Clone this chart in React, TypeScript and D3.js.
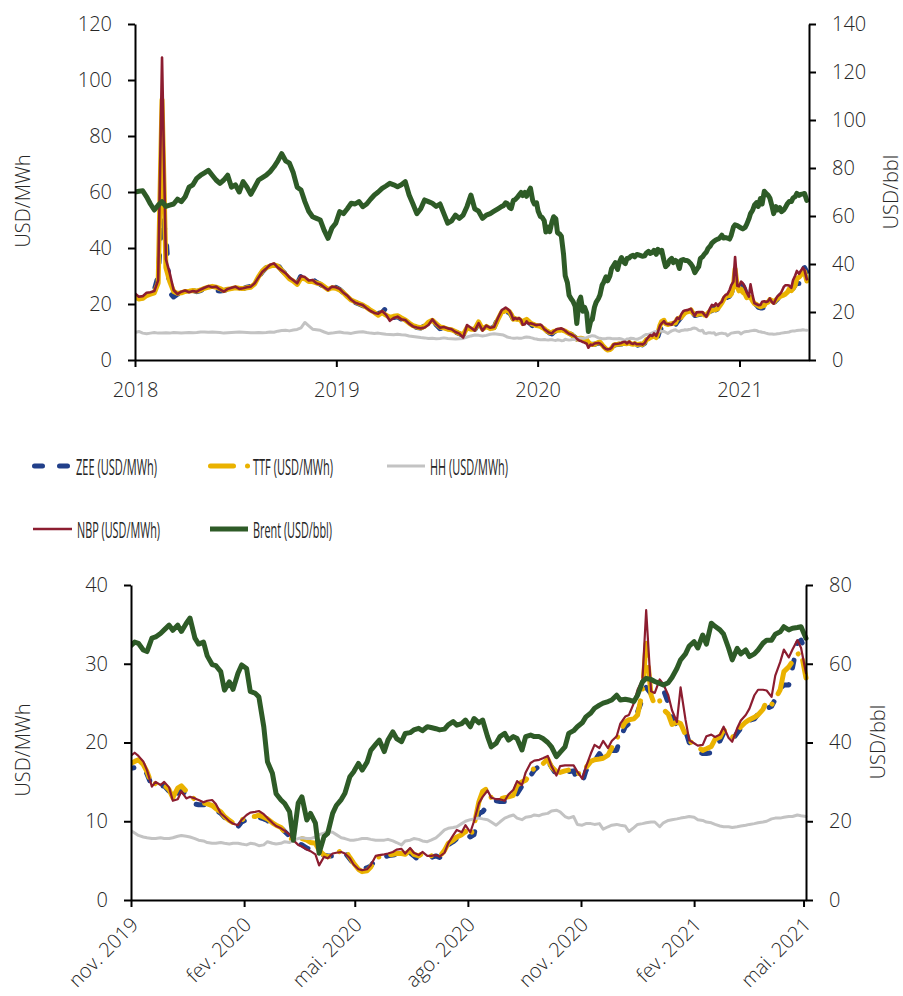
//gas and oil prices, two panels drawn with d3
import React, { useEffect, useRef } from 'react';
import * as d3 from 'd3';

// weekly values, first week 2018-01-01, last 2019-10-21
const zeeWeekly = [22.8, 22, 22.2, 23.2, 23.6, 25, 30, 51, 45, 24, 22.5, 23.5, 23.8, 24.2, 24.5, 24.8, 24.4, 24.8, 25.5, 25.6, 25.2, 24.8, 24.6, 24.8, 25.2, 25.5, 25.8, 25.6, 25.5, 26, 26.3, 27, 29.5, 31.5, 33, 34, 35, 34, 32, 30.8, 29.5, 28.6, 27.2, 30.2, 29.8, 28.6, 28.8, 27.8, 27, 26, 25, 26, 26, 25.2, 24, 22.6, 21.6, 20.6, 20, 19.4, 18.6, 17.6, 17, 16.6, 17, 18.5, 14.8, 15.2, 15.4, 14.6, 14, 13, 12.2, 11.6, 11.4, 12.2, 12.8, 14.6, 12.6, 11.2, 11.4, 10.8, 10.6, 10, 9.4, 8.8, 11.8, 11.2, 10.8, 13, 10.8, 12, 11.4, 11.6, 15];
const ttfWeekly = [22.5, 21.8, 22, 23, 23.5, 24, 27.5, 93, 33, 28, 24.5, 23.8, 24, 24.5, 24.6, 24.8, 24.6, 25, 25.6, 26, 26.3, 26, 25.5, 24.8, 25.3, 25.5, 25.8, 25.6, 25.5, 25.8, 26, 27.2, 29.8, 31.8, 33, 33.5, 34, 33.5, 32, 30.5, 29, 28.2, 27, 29.2, 29, 28, 28, 27.5, 27.2, 26.2, 25.2, 25.8, 25.6, 25, 24, 22.6, 21.4, 20.8, 20.2, 19.6, 18.8, 17.8, 17, 16, 17, 16, 15.2, 15.6, 15.8, 15, 14.3, 13.2, 12.3, 11.8, 11.5, 12, 13.5, 14.2, 13, 11.8, 11.5, 11, 10.8, 10.2, 9.5, 9, 11.5, 11, 11, 13.6, 11, 12, 11.2, 11.5, 14.5];
const hhWeekly = [9.8, 10.2, 9.6, 9.4, 9.6, 9.8, 9.6, 9.6, 9.7, 9.6, 9.8, 9.7, 9.6, 9.7, 9.8, 9.7, 9.8, 10, 10, 9.9, 10, 9.9, 9.8, 9.6, 9.7, 9.8, 9.9, 10, 9.9, 9.8, 9.7, 9.7, 9.8, 9.7, 9.8, 10, 9.9, 10.3, 10.5, 10.6, 10.4, 10.7, 10.9, 11.5, 13.4, 12.2, 11, 10.8, 10.6, 10, 9.5, 9.6, 9.8, 10, 9.7, 9.6, 9.5, 9.8, 10, 10.1, 9.8, 9.6, 9.5, 9.6, 9.4, 9.2, 9.1, 9, 9.2, 9, 8.9, 8.6, 8.4, 8.2, 8, 7.9, 7.7, 7.8, 7.6, 7.7, 7.9, 7.7, 7.6, 7.5, 7.6, 7.7, 8.2, 8.6, 8.9, 8.8, 8.6, 8.8, 9.2, 9.4, 9.2];
const nbpWeekly = [23.8, 22.6, 22.8, 24, 24.2, 24.6, 28.5, 108, 36, 31, 25, 23.5, 24.4, 24.8, 24.2, 24.6, 24.4, 25.2, 25.8, 26.4, 26, 26.2, 25.2, 24.4, 25.4, 25.8, 26.2, 25.4, 25.6, 26, 26.2, 27.4, 29.5, 31.5, 32.7, 34, 34.5, 33, 32, 31, 29.5, 28.5, 27.4, 30, 29.6, 28.4, 28.6, 27.4, 27, 26, 25, 26.2, 26, 25.4, 24, 23, 21.5, 20.5, 20, 19.6, 18.5, 17.5, 16.8, 16.5, 17.5, 16.2, 14, 15, 15.5, 14.5, 14.3, 13, 12, 11.6, 11.3, 11.6, 12.5, 14.5, 12.8, 11.5, 11.8, 11.3, 11, 10, 9.4, 8, 12.5, 11.5, 10.5, 13.2, 10.5, 12.3, 11.5, 11.8, 15];
const brentWeekly = [70, 70.3, 70.5, 68, 65, 62.5, 64.5, 66, 64, 64.5, 65, 67, 66, 68, 72, 73, 75.7, 77, 78, 79, 77, 75, 73.6, 75, 77, 72, 73, 70, 74.3, 72, 69, 72, 75, 76, 77, 78.5, 80.5, 83, 86, 83, 82, 78, 72, 70.8, 66, 62, 59.7, 59, 58.3, 54, 50.7, 55, 57, 61.8, 61, 63, 65.3, 65, 66, 63.9, 65, 67, 68.75, 70, 71.5, 72.5, 73.6, 73, 72.2, 73, 74.3, 68.75, 65, 61, 63, 66.7, 66, 65.3, 64, 65, 61, 57, 58, 60.4, 59, 60.4, 64, 68.75, 63, 62, 59, 60.4, 61, 62, 63];

// twice a week (mon / thu), 2019-10-28 to 2021-05-03
const zeeTwice = [16.6, 16.7, 16.8, 17, 16.9, 16, 14.5, 14.6, 14.4, 14.5, 13.8, 12.8, 13.6, 13.9, 13.4, 12.9, 12.2, 12.1, 12.1, 12, 11.8, 11.4, 11, 10.5, 10, 9.6, 9.3, 9.9, 10.2, 10.4, 10.4, 10.5, 10.3, 10.1, 9.5, 9.3, 9.2, 8.7, 8.1, 7.5, 7.2, 7, 6.6, 6.4, 6, 5.8, 5.7, 5.6, 5.6, 5.8, 6, 6, 5.2, 4.6, 4.2, 4, 4.1, 4.3, 5.2, 5.4, 5.5, 5.6, 5.7, 5.8, 5.8, 5.6, 6, 5.6, 5.1, 5.1, 5.2, 5.4, 5.6, 5.4, 6, 7, 7.4, 7.8, 8.1, 8.5, 8, 8.3, 11, 11.2, 12, 12.6, 12.6, 12.5, 12.5, 12.6, 12.6, 13.5, 14.5, 15.2, 15.8, 16.5, 17, 17.2, 17.6, 16.9, 15.9, 16, 16.2, 16.3, 16.4, 15.2, 14.9, 16.4, 17.4, 17.6, 18.6, 17.9, 18.2, 19, 19, 20.6, 22, 22.4, 22.8, 23.9, 25.5, 27, 26.2, 26.5, 26.7, 26.7, 25, 23, 22.2, 22, 21.5, 20, 19.6, 18.8, 18.6, 18.6, 18.7, 19.9, 20.2, 21.2, 20.7, 20.3, 21.2, 21.8, 22.9, 22.8, 23, 23.6, 24.5, 24.3, 24.6, 25.5, 26.9, 27.3, 27.3, 29.5, 32.6, 33, 31.5];
const ttfTwice = [17.2, 17.3, 17.6, 17.8, 17.2, 16.3, 14.6, 14.8, 14.5, 14.6, 14, 13, 14.2, 14.5, 13.8, 13.2, 12.8, 12.6, 12.3, 12.2, 12, 11.6, 11.2, 10.6, 10.1, 9.8, 9.8, 10.2, 10.4, 10.6, 10.6, 10.8, 10.5, 10.3, 9.8, 9.5, 9.2, 8.6, 8, 7.5, 7.7, 7.8, 7.6, 7.3, 7.2, 6.3, 5.7, 5.5, 5.6, 5.9, 6.3, 6.4, 5.4, 4.7, 3.9, 3.6, 3.7, 4.2, 5.3, 5.5, 5.6, 5.7, 5.8, 5.9, 5.9, 5.8, 6.3, 5.8, 5.6, 5.9, 5.5, 5.6, 5.7, 5.5, 6.3, 7.2, 7.6, 8, 8.3, 8.7, 8, 9.5, 12.5, 13.8, 14.2, 13, 12.7, 12.8, 13, 13.1, 13.3, 14.6, 15, 15.2, 16.1, 16.8, 17.2, 17.3, 17.9, 16.9, 16.3, 16.2, 16.4, 16.5, 16.6, 16.1, 16, 16.8, 17.6, 17.8, 17.9, 18, 18.4, 19.3, 20.4, 21.5, 22.6, 22.9, 23, 23.5, 26.5, 32.6, 26, 24.7, 25.3, 24.2, 23.6, 22.3, 22.6, 22.4, 21, 20.2, 19.8, 19.4, 19, 19.2, 19.5, 20.4, 20.7, 21.6, 21.2, 20.6, 21.5, 22, 22.6, 22.9, 23.2, 23.5, 24.2, 25.3, 24.8, 25.5, 26.7, 29, 29.6, 30.3, 31.2, 31.5, 28.2];
const hhTwice = [9, 8.9, 8.5, 8.2, 8, 7.9, 7.8, 7.8, 7.9, 7.8, 7.8, 7.9, 8.1, 8.2, 8.1, 8, 7.8, 7.6, 7.5, 7.3, 7.2, 7.2, 7.3, 7.2, 7.1, 7.2, 7.2, 7.1, 7, 7.2, 7.1, 6.9, 7, 7.4, 7.2, 7.1, 7.2, 7.4, 7.3, 7.6, 7.8, 7.9, 7.8, 7.8, 8, 8.3, 8.5, 8.7, 8.6, 8.3, 7.9, 7.8, 7.6, 7.6, 7.7, 7.8, 7.8, 7.7, 7.6, 7.6, 7.6, 7.7, 7.5, 7.3, 7, 7.5, 7.6, 7.8, 7.7, 7.5, 7.4, 7.6, 7.9, 8.3, 8.9, 9.1, 9.2, 9.3, 9.7, 10, 10.2, 10.3, 10.4, 10.3, 10.2, 9.9, 9.5, 9.9, 10.4, 10.6, 10.8, 10.4, 10.2, 10.5, 10.6, 10.8, 10.7, 10.9, 11, 11.3, 11.4, 11.2, 10.6, 10.4, 10.6, 9.6, 9.5, 9.7, 9.7, 9.6, 9.7, 9, 9.3, 9.5, 9.6, 9.5, 9.4, 8.7, 9.2, 9.6, 9.7, 9.8, 9.9, 9.9, 9.3, 9.8, 10.1, 10.2, 10.3, 10.4, 10.5, 10.6, 10.5, 10.2, 10.1, 9.9, 9.8, 9.6, 9.4, 9.3, 9.3, 9.2, 9.3, 9.4, 9.5, 9.6, 9.7, 9.8, 9.9, 10, 10.3, 10.4, 10.4, 10.5, 10.6, 10.6, 10.8, 10.7, 10.6];
const nbpTwice = [17.8, 18.2, 18.7, 18.3, 17.6, 16.5, 14.4, 15, 14.6, 15, 14.3, 12.6, 12.8, 13.8, 12.9, 13.1, 12.9, 12.7, 12.4, 12.6, 12.7, 12.2, 11, 10.6, 10, 9.7, 9.5, 10.2, 10.8, 11.1, 11.2, 11.3, 10.9, 10.4, 9.8, 9.4, 9.1, 8.8, 8.3, 7.6, 7, 6.8, 6.4, 6.2, 5.8, 4.4, 5.5, 5.3, 5.9, 6, 6.1, 5.9, 5.3, 4.5, 3.9, 3.8, 3.9, 4.4, 5.6, 5.7, 5.8, 5.9, 6.1, 6.4, 6.5, 5.9, 6.6, 6, 5.7, 6.1, 5.6, 5.6, 5.7, 5.5, 6, 7.2, 8.2, 8.9, 8.6, 9.5, 8.6, 10, 12.3, 13.1, 13.9, 13, 12.8, 12.8, 12.6, 13.4, 14, 15.1, 14.6, 16.2, 17.4, 17.7, 17.8, 18, 18.3, 17, 15.8, 17, 17.1, 17.1, 17.1, 16.3, 15.4, 16.9, 18.6, 19.7, 19.3, 20.2, 19.3, 20.2, 20.8, 22.4, 23.3, 23.5, 25, 26.7, 28, 36.8, 26.5, 26.3, 28, 27.4, 26, 24.1, 22.6, 27, 22.9, 20.3, 19.9, 19.6, 19.7, 20.8, 21, 20.7, 21, 22, 20.6, 20.1, 21.8, 22.8, 23.5, 24.3, 26, 26.7, 26.7, 26.6, 25.8, 28.5, 30.2, 31.8, 30.8, 31.8, 33, 32, 28.8];
const brentTwice = [64, 64.3, 65.5, 65.2, 63.5, 63.1, 66.5, 66.8, 67.7, 68.6, 69.8, 68.5, 69.8, 68.2, 70.3, 71.6, 66.5, 65, 65.5, 62, 59.8, 59.5, 58, 53.3, 55.4, 53.5, 57.6, 59.7, 58.8, 53, 52.5, 51.6, 44, 35.1, 32.2, 27, 25.4, 24.5, 22.4, 15.2, 24.6, 26.2, 20.3, 22, 19.5, 11.9, 16.1, 16.9, 22, 24, 25.5, 27.1, 31.3, 32.5, 34.7, 33, 35, 38, 39.5, 40.6, 37.7, 40.6, 42.7, 41, 40.2, 42.3, 42.5, 43.2, 43.6, 43, 44, 43.8, 43.5, 43.2, 43.4, 44.5, 45.3, 44.4, 44.8, 45.7, 44, 46.1, 45, 45.7, 41.5, 38.9, 39.8, 41.5, 42.3, 40.6, 41.5, 41, 38.1, 41.5, 41.9, 41.5, 41.5, 41, 40, 38.9, 36.4, 37.5, 38.9, 42.3, 43, 44, 45, 46.5, 47.5, 48.7, 49.5, 50, 50.4, 50.8, 52, 50.8, 51, 50.8, 50.4, 52, 55.4, 56.3, 56, 55.5, 55, 54.6, 55.2, 56.5, 58.8, 61, 62.5, 64.5, 65.6, 64, 67.3, 65, 70.3, 69.5, 68.6, 67.5, 64, 61, 63.9, 62.5, 63.5, 61.8, 62.5, 63.5, 65.2, 66, 66, 67.5, 68.1, 69.4, 68.6, 69, 69.2, 69.4, 66.5];

const yearTicks = ['2018', '2019', '2020', '2021'];
const monthTickDates = ['2019-11-01', '2020-02-01', '2020-05-01', '2020-08-01', '2020-11-01', '2021-02-01', '2021-05-01'];
const monthTickLabels = ['nov. 2019', 'fev. 2020', 'mai. 2020', 'ago. 2020', 'nov. 2020', 'fev. 2021', 'mai. 2021'];
const legendNames = ['ZEE (USD/MWh)', 'TTF (USD/MWh)', 'HH (USD/MWh)', 'NBP (USD/MWh)', 'Brent (USD/bbl)'];

const FONT = '"Open Sans", "DejaVu Sans", sans-serif';
const TEXT = '#262626';

const App = () => {
    const ref = useRef<SVGSVGElement>(null);

    useEffect(() => {
        const svg = d3.select(ref.current);
        svg.selectAll('*').remove();

        //the dates of every point
        const dates: Date[] = [];
        zeeWeekly.forEach((_, i) => dates.push(d3.timeDay.offset(new Date(2018, 0, 1), 7 * i)));
        zeeTwice.forEach((_, i) => dates.push(d3.timeDay.offset(new Date(2019, 9, 28), Math.floor(i / 2) * 7 + (i % 2) * 3)));

        const series = [
            { name: legendNames[0], values: zeeWeekly.concat(zeeTwice), color: '#213F8A', width: 5, dash: '8 17', legendDash: '8 17', right: false },
            { name: legendNames[1], values: ttfWeekly.concat(ttfTwice), color: '#EAB200', width: 5, dash: '34 12 0.01 12', legendDash: '23 14 0.01 14', right: false },
            { name: legendNames[2], values: hhWeekly.concat(hhTwice), color: '#C3C3C3', width: 3, dash: null, legendDash: null, right: false },
            { name: legendNames[3], values: nbpWeekly.concat(nbpTwice), color: '#8C1D30', width: 2.4, dash: null, legendDash: null, right: false },
            { name: legendNames[4], values: brentWeekly.concat(brentTwice), color: '#2E5B27', width: 5, dash: null, legendDash: null, right: true },
        ];

        const parse = d3.timeParse('%Y-%m-%d');

        const drawPanel = (p: any) => {
            const g = svg.append('g');
            const clipId = 'clip' + p.id;
            svg.append('clipPath').attr('id', clipId)
                .append('rect')
                .attr('x', p.xRange[0]).attr('y', 0)
                .attr('width', p.xRange[1] - p.xRange[0] + 6)
                .attr('height', p.yRange[0] + 4);

            const x = d3.scaleTime().domain(p.xDomain).range(p.xRange);
            const yL = d3.scaleLinear().domain(p.yLeft).range(p.yRange);
            const yR = d3.scaleLinear().domain(p.yRight).range(p.yRange);

            //lines
            const lines = g.append('g').attr('clip-path', `url(#${clipId})`);
            series.forEach((s) => {
                const yS = s.right ? yR : yL;
                const idx = d3.range(dates.length).filter((i) => dates[i] >= p.from);
                const line = d3.line<number>()
                    .x((i) => x(dates[i]))
                    .y((i) => yS(s.values[i]));
                //the long panel is dense enough that the ttf dashes close up
                const dash = p.solidTtf && s.name.startsWith('TTF') ? null : s.dash;
                lines.append('path')
                    .attr('d', line(idx))
                    .attr('fill', 'none')
                    .attr('stroke', s.color)
                    .attr('stroke-width', s.name.startsWith('NBP') ? p.nbpWidth : s.width)
                    .attr('stroke-linejoin', 'round')
                    .attr('stroke-linecap', 'round')
                    .attr('stroke-dasharray', dash);
            });

            //axes
            const styleAxis = (a: any) => {
                a.select('.domain').attr('stroke', '#000').attr('stroke-width', 2);
                a.selectAll('.tick line').attr('stroke', '#000').attr('stroke-width', 2);
                a.selectAll('text').attr('fill', TEXT).attr('font-size', 20)
                    .attr('font-family', FONT).attr('font-weight', 300);
            };
            g.append('g')
                .attr('transform', `translate(${p.xRange[0]},0)`)
                .call(d3.axisLeft(yL).tickValues(d3.range(p.yLeft[0], p.yLeft[1] + 1, p.leftStep))
                    .tickSize(7).tickSizeOuter(0).tickPadding(16))
                .call(styleAxis);
            g.append('g')
                .attr('transform', `translate(${p.xRange[1]},0)`)
                .call(d3.axisRight(yR).tickValues(d3.range(p.yRight[0], p.yRight[1] + 1, p.rightStep))
                    .tickSize(7).tickSizeOuter(0).tickPadding(16))
                .call(styleAxis);
            const xa = g.append('g')
                .attr('transform', `translate(0,${p.yRange[0]})`)
                .call(d3.axisBottom(x).tickValues(p.tickDates).tickFormat((_, i) => p.tickLabels[i])
                    .tickSize(7).tickSizeOuter(0).tickPadding(16))
                .call(styleAxis);
            if (p.rotate) {
                xa.selectAll('.tick text')
                    .attr('text-anchor', 'end')
                    .attr('dy', null)
                    .attr('y', null)
                    .attr('transform', 'translate(8,26) rotate(-45)');
            }

            //axis titles
            g.append('text')
                .attr('transform', `translate(${p.leftTitle[0]},${p.leftTitle[1]}) rotate(-90)`)
                .attr('text-anchor', 'middle').attr('dominant-baseline', 'central')
                .attr('font-family', FONT).attr('font-weight', 300).attr('font-size', 20).attr('fill', TEXT)
                .text('USD/MWh');
            g.append('text')
                .attr('transform', `translate(${p.rightTitle[0]},${p.rightTitle[1]}) rotate(-90)`)
                .attr('text-anchor', 'middle').attr('dominant-baseline', 'central')
                .attr('font-family', FONT).attr('font-weight', 300).attr('font-size', 20).attr('fill', TEXT)
                .text('USD/bbl');
        };

        drawPanel({
            id: 'top',
            from: new Date(2018, 0, 1),
            xDomain: [new Date(2018, 0, 1), new Date(2021, 4, 7)],
            xRange: [135, 809],
            yLeft: [0, 120], leftStep: 20,
            yRight: [0, 140], rightStep: 20,
            yRange: [360, 24],
            tickDates: yearTicks.map((y) => new Date(+y, 0, 1)),
            tickLabels: yearTicks,
            rotate: false,
            solidTtf: true,
            nbpWidth: 2.6,
            leftTitle: [22, 201],
            rightTitle: [890, 192],
        });

        drawPanel({
            id: 'bottom',
            from: new Date(2019, 9, 28),
            xDomain: [parse('2019-11-01'), parse('2021-05-03')],
            xRange: [131, 806],
            yLeft: [0, 40], leftStep: 10,
            yRight: [0, 80], rightStep: 20,
            yRange: [900, 585],
            tickDates: monthTickDates.map((d) => parse(d)),
            tickLabels: monthTickLabels,
            rotate: true,
            solidTtf: false,
            nbpWidth: 2.2,
            leftTitle: [22, 750],
            rightTitle: [877, 742],
        });

        //legend, two rows
        const legendPos = [
            { x1: 34.5, x2: 68, tx: 76, tw: 81, y: 466 },
            { x1: 210.5, x2: 250, tx: 253, tw: 80, y: 466 },
            { x1: 387, x2: 425, tx: 430, tw: 78, y: 466 },
            { x1: 33, x2: 72, tx: 77, tw: 83, y: 529 },
            { x1: 210, x2: 248, tx: 253, tw: 79, y: 529 },
        ];
        const legend = svg.append('g');
        series.forEach((s, i) => {
            const lp = legendPos[i];
            legend.append('line')
                .attr('x1', lp.x1).attr('x2', lp.x2).attr('y1', lp.y).attr('y2', lp.y)
                .attr('stroke', s.color)
                .attr('stroke-width', s.name.startsWith('NBP') ? 2.6 : s.width)
                .attr('stroke-linecap', s.legendDash ? 'round' : 'butt')
                .attr('stroke-dasharray', s.legendDash);
            legend.append('text')
                .attr('x', lp.tx).attr('y', lp.y + 1)
                .attr('dominant-baseline', 'central')
                .attr('textLength', lp.tw).attr('lengthAdjust', 'spacingAndGlyphs')
                .attr('font-family', FONT).attr('font-weight', 400).attr('font-size', 21).attr('fill', TEXT)
                .text(s.name);
        });
    }, []);

    return (
        <svg ref={ref} width={903} height={996}
            style={{ position: 'absolute', left: 0, top: 0, background: '#fff' }} />
    );
};

export default App;
